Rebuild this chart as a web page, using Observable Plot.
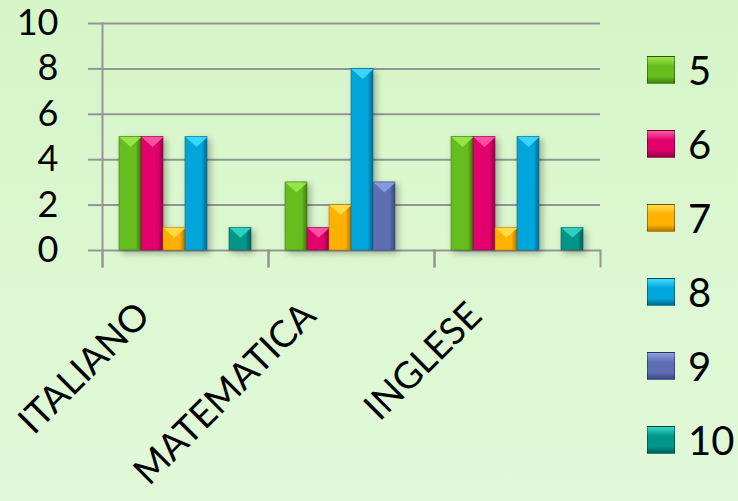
<!DOCTYPE html>
<html><head><meta charset="utf-8">
<script src="https://cdn.jsdelivr.net/npm/d3@7"></script>
<script src="https://cdn.jsdelivr.net/npm/@observablehq/plot@0.6"></script>
<style>
html,body{margin:0;padding:0;}
body{width:738px;height:501px;overflow:hidden;background:linear-gradient(#d5f5c7,#e2f9d9);font-family:Lato,sans-serif;position:relative;}
#chart{position:absolute;left:0;top:0;}
#chart svg{background:transparent;}
#legend{position:absolute;left:647px;top:33px;}
.item{height:74px;display:flex;align-items:center;}
.sw{width:28px;height:28px;box-sizing:border-box;border:1px solid rgba(0,0,0,0.35);}
.lab{margin-left:13px;font-size:40px;color:#000;line-height:1;}
g[aria-label="bar"] rect{filter:drop-shadow(3px 3px 3px rgba(0,0,0,0.28));}
</style></head><body>
<div id="chart"></div><div id="legend"></div>
<script>
const subjects = ["ITALIANO", "MATEMATICA", "INGLESE"];
const grades = ["5", "6", "7", "8", "9", "10"];
const baseColors = ["#66be1e", "#e2006c", "#ffb000", "#00a5db", "#5d6eb2", "#00968a"];
const lightColors = ["#9be84a", "#ff5aa8", "#ffe04a", "#3fdcff", "#8c9ee6", "#33d6c4"];
const darkColors = ["#3f7d10", "#8f0044", "#b87a00", "#006a8e", "#3b4a80", "#005e57"];
const valuesItaliano = [5, 5, 1, 5, 0, 1];
const valuesMatematica = [3, 1, 2, 8, 3, 0];
const valuesInglese = [5, 5, 1, 5, 0, 1];
const yTicks = [0, 2, 4, 6, 8, 10];

const seriesBySubject = [valuesItaliano, valuesMatematica, valuesInglese];
const data = [];
subjects.forEach((s, i) => grades.forEach((g, j) => data.push({subject: s, grade: g, value: seriesBySubject[i][j]})));
const nonZero = data.filter(d => d.value > 0);
const idx = g => grades.indexOf(g);

const W = 738, H = 501, mL = 102, mR = 138, mT = 23, mB = 251;

const plot = Plot.plot({
  width: W, height: H,
  marginLeft: mL, marginRight: mR, marginTop: mT, marginBottom: mB,
  style: {background: "transparent", fontFamily: "Lato, sans-serif", overflow: "visible"},
  fx: {domain: subjects, padding: 0, label: null},
  x: {domain: grades, paddingInner: 0, paddingOuter: 0.74, axis: null},
  y: {domain: [0, 10], label: null},
  color: {type: "ordinal", domain: grades, range: grades.map((g, i) => `url(#grad${i})`)},
  marks: [
    Plot.ruleY(yTicks, {stroke: "#959595", strokeWidth: 2}),
    Plot.axisY({ticks: yTicks, tickSize: 14, tickPadding: 30, fontSize: 36, stroke: "#959595", strokeWidth: 2, fill: "black", label: null}),
    Plot.frame({anchor: "left", stroke: "#959595", strokeWidth: 2, insetTop: H - mT - mB, insetBottom: -16}),
    Plot.frame({anchor: "right", stroke: "#959595", strokeWidth: 2, insetTop: H - mT - mB, insetBottom: -16}),
    Plot.frame({anchor: "left", stroke: "#959595", strokeWidth: 2, insetBottom: -16, facetAnchor: "left"}),
    Plot.barY(data, {fx: "subject", x: "grade", y: "value", fill: "grade", inset: 0,
      stroke: d => darkColors[idx(d.grade)], strokeWidth: 0.6}),
    Plot.vector(nonZero, {fx: "subject", x: "grade", y: "value", shape: "spike", anchor: "start",
      rotate: 180, length: 10, r: 11, fill: d => lightColors[idx(d.grade)], stroke: "none", fillOpacity: 0.9}),
    Plot.axisFx({anchor: "bottom", rotate: -45, textAnchor: "end", lineAnchor: "middle", tickSize: 0,
      fontSize: 37, fill: "black", dx: -42, dy: 50, label: null})
  ]
});

// gradients for the bevelled bars
const defs = d3.select(plot).insert("defs", ":first-child");
grades.forEach((g, i) => {
  const lg = defs.append("linearGradient").attr("id", `grad${i}`).attr("x1", 0).attr("x2", 1).attr("y1", 0).attr("y2", 0);
  lg.append("stop").attr("offset", 0).attr("stop-color", baseColors[i]);
  lg.append("stop").attr("offset", 0.75).attr("stop-color", baseColors[i]);
  lg.append("stop").attr("offset", 1).attr("stop-color", darkColors[i]);
});
document.getElementById("chart").appendChild(plot);

const legend = d3.select("#legend");
grades.forEach((g, i) => {
  const it = legend.append("div").attr("class", "item");
  it.append("div").attr("class", "sw")
    .style("background", `linear-gradient(to bottom, ${lightColors[i]} 0%, ${baseColors[i]} 35%, ${baseColors[i]} 75%, ${darkColors[i]} 100%)`);
  it.append("div").attr("class", "lab").text(g);
});
</script>
</body></html>
